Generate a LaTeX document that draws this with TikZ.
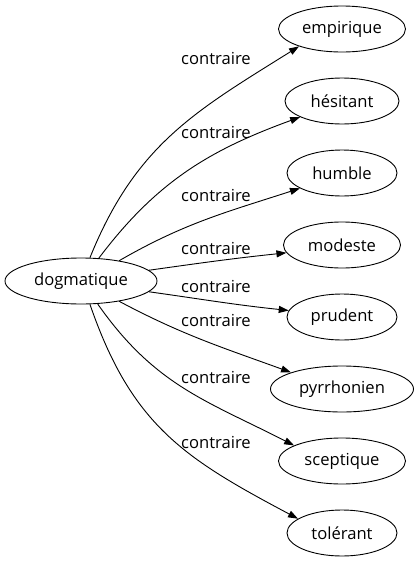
\documentclass[tikz,border=0pt]{standalone}
\usepackage{fontspec}
\setmainfont{Open Sans}
\usetikzlibrary{shapes.geometric,arrows.meta}
\begin{document}
\begin{tikzpicture}[x=1pt,y=1pt,
  word/.style={draw,ellipse,inner sep=0pt,minimum height=46,line width=0.9pt,font=\fontsize{16.6}{18}\selectfont},
  lbl/.style={inner sep=0pt,font=\fontsize{16.6}{18}\selectfont},
  rel/.style={line width=0.9pt,-{Triangle[length=10pt,width=7pt]}}]
  \useasboundingbox (0,0) rectangle (418,-563);
  \node[word,minimum width=152] (dog) at (81,-281) {dogmatique};
  \node[word,minimum width=127] (emp) at (342,-29) {empirique};
  \node[word,minimum width=114] (hes) at (342,-101) {hésitant};
  \node[word,minimum width=110] (hum) at (342,-173) {humble};
  \node[word,minimum width=117] (mod) at (342,-245) {modeste};
  \node[word,minimum width=110] (pru) at (342,-317) {prudent};
  \node[word,minimum width=143] (pyr) at (342,-389) {pyrrhonien};
  \node[word,minimum width=127] (sce) at (342,-461) {sceptique};
  \node[word,minimum width=110] (tol) at (342,-533) {tolérant};
  \draw[rel] (dog.69) to[out=68,in=212,looseness=1.05] (emp.202);
  \node[lbl] (l1) at (216,-58) {contraire};
  \draw[rel] (dog.52) to[out=53,in=200] (hes.201);
  \node[lbl] (l2) at (216,-132) {contraire};
  \draw[rel] (dog.28) to[out=30,in=198] (hum.200);
  \node[lbl] (l3) at (216,-195) {contraire};
  \draw[rel] (dog.9) to[out=8,in=186] (mod.188);
  \node[lbl] (l4) at (216,-248) {contraire};
  \draw[rel] (dog.-9) to[out=-8,in=174] (pru.173);
  \node[lbl] (l5) at (216,-286) {contraire};
  \draw[rel] (dog.-28) to[out=-28,in=160] (pyr.162);
  \node[lbl] (l6) at (216,-320) {contraire};
  \draw[rel] (dog.-54) to[out=-55,in=153,looseness=1.05] (sce.162);
  \node[lbl] (l7) at (216,-377) {contraire};
  \draw[rel] (dog.-69) to[out=-71,in=152,looseness=1.1] (tol.162);
  \node[lbl] (l8) at (216,-442) {contraire};
\end{tikzpicture}
\end{document}
